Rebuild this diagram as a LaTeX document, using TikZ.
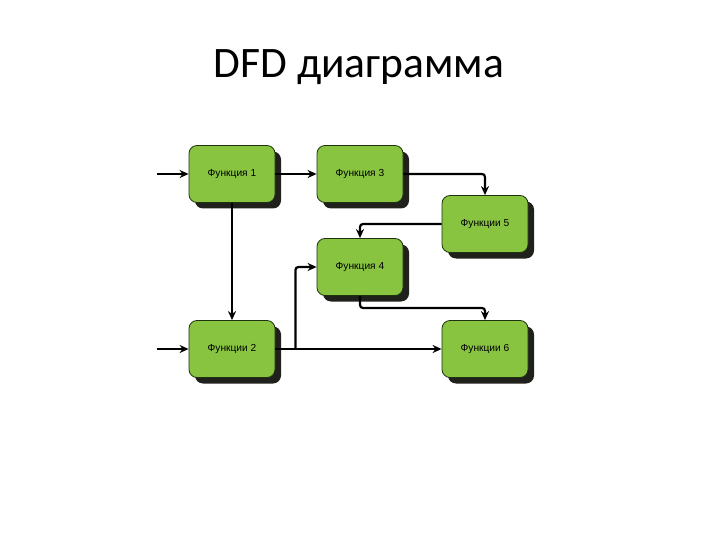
\documentclass[tikz,border=0pt]{standalone}
\usepackage{fontspec}
\setmainfont{Carlito}
\newfontfamily\boxfont{Liberation Sans}
\usetikzlibrary{arrows.meta}
\definecolor{boxgreen}{RGB}{137,196,64}
\definecolor{boxedge}{RGB}{30,50,15}
\definecolor{shadowc}{RGB}{32,32,28}
\begin{document}
\begin{tikzpicture}[x=1pt,y=-1pt,
  fbox/.style={minimum width=86pt,minimum height=57pt,rounded corners=8pt,
    fill=boxgreen,draw=boxedge,line width=0.8pt,font=\boxfont\fontsize{10.2}{11}\selectfont,inner sep=0pt},
  shad/.style={fill=shadowc,rounded corners=8pt},
  flow/.style={line width=2.2pt,-{Stealth[length=9pt,width=8pt]}}]
\useasboundingbox (0,0) rectangle (720,540);
\node[font=\fontsize{43.5}{48}\selectfont] (title) at (359,67) {DFD диаграмма};
% shadows
\foreach \x/\y in {232/174,360/174,485/224,360/267,232/349,485/349}{
  \fill[shad] (\x-43+6,\y-28.5+6) rectangle (\x+43+6,\y+28.5+6);
}
\node[fbox] (f1) at (232,174) {Функция 1};
\node[fbox] (f3) at (360,174) {Функция 3};
\node[fbox] (f5) at (485,224) {Функции 5};
\node[fbox] (f4) at (360,267) {Функция 4};
\node[fbox] (f2) at (232,349) {Функции 2};
\node[fbox] (f6) at (485,349) {Функции 6};
\coordinate (in1) at (157,174);
\coordinate (in2) at (157,349);
\draw[flow] (in1) -- (f1);
\draw[flow] (in2) -- (f2);
\draw[flow] (f1) -- (f3);
\draw[flow] (f1) -- (f2);
\draw[flow] (f2) -- (f6);
\draw[flow,rounded corners=3pt] (f3.east) -| (f5.north);
\draw[flow,rounded corners=3pt] (f5.west) -| (f4.north);
\draw[flow,rounded corners=3pt] (f4.south) |- (422,308) -| (f6.north);
\draw[flow,rounded corners=3pt] (f2.east) ++(20,0) |- (f4.west);
\end{tikzpicture}
\end{document}
